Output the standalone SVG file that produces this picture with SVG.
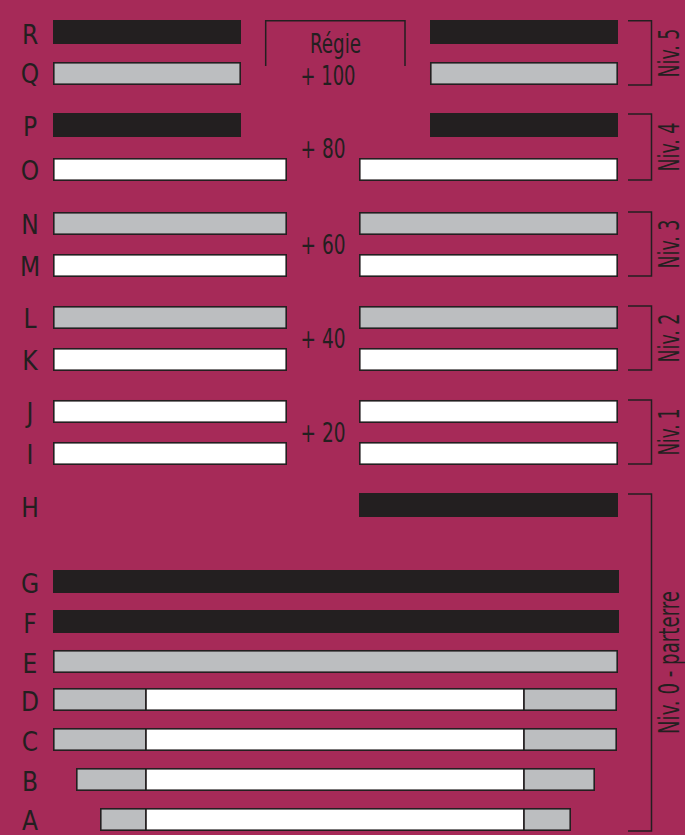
<svg xmlns="http://www.w3.org/2000/svg" width="685" height="835" viewBox="0 0 685 835">
<style>
text{font-family:"Liberation Sans Narrow","DejaVu Sans Condensed","Liberation Sans",sans-serif;fill:#231f20}
.lbl{font-size:26px;text-anchor:middle}
.num{font-size:26px}
.niv{font-size:28px;text-anchor:middle}
.blk{fill:#231f20}
.gry{fill:#bcbec0;stroke:#231f20;stroke-width:1.6}
.wht{fill:#ffffff;stroke:#231f20;stroke-width:1.6}
.br{fill:none;stroke:#231f20;stroke-width:1.5}
</style>
<rect x="0" y="0" width="685" height="835" fill="#a62a58"/>

<g id="regie">
<path class="br" d="M265.7,66 V20.7 H405 V66"/>
<text class="num" x="310" y="53" textLength="51" lengthAdjust="spacingAndGlyphs">Régie</text>
</g>

<g id="row-R"><text class="lbl" x="30" y="44">R</text>
<rect class="blk" x="53" y="20" width="188" height="24"/><rect class="blk" x="430" y="20" width="188" height="24"/></g>
<g id="row-Q"><text class="lbl" x="30" y="83">Q</text>
<rect class="gry" x="53.8" y="62.8" width="186.4" height="21.4"/><rect class="gry" x="430.8" y="62.8" width="186.4" height="21.4"/></g>
<g id="alt-100"><text class="num" x="300.5" y="85" textLength="55" lengthAdjust="spacingAndGlyphs">+ 100</text></g>

<g id="row-P"><text class="lbl" x="30" y="136">P</text>
<rect class="blk" x="53" y="113" width="188" height="24"/><rect class="blk" x="430" y="113" width="188" height="24"/></g>
<g id="alt-80"><text class="num" x="300.5" y="158" textLength="45" lengthAdjust="spacingAndGlyphs">+ 80</text></g>
<g id="row-O"><text class="lbl" x="30" y="180">O</text>
<rect class="wht" x="53.8" y="158.8" width="232.4" height="21.4"/><rect class="wht" x="359.8" y="158.8" width="257.4" height="21.4"/></g>

<g id="row-N"><text class="lbl" x="30" y="234">N</text>
<rect class="gry" x="53.8" y="212.8" width="232.4" height="21.4"/><rect class="gry" x="359.8" y="212.8" width="257.4" height="21.4"/></g>
<g id="alt-60"><text class="num" x="300.5" y="254" textLength="45" lengthAdjust="spacingAndGlyphs">+ 60</text></g>
<g id="row-M"><text class="lbl" x="30" y="276">M</text>
<rect class="wht" x="53.8" y="254.8" width="232.4" height="21.4"/><rect class="wht" x="359.8" y="254.8" width="257.4" height="21.4"/></g>

<g id="row-L"><text class="lbl" x="30" y="328">L</text>
<rect class="gry" x="53.8" y="306.8" width="232.4" height="21.4"/><rect class="gry" x="359.8" y="306.8" width="257.4" height="21.4"/></g>
<g id="alt-40"><text class="num" x="300.5" y="348" textLength="45" lengthAdjust="spacingAndGlyphs">+ 40</text></g>
<g id="row-K"><text class="lbl" x="30" y="370">K</text>
<rect class="wht" x="53.8" y="348.8" width="232.4" height="21.4"/><rect class="wht" x="359.8" y="348.8" width="257.4" height="21.4"/></g>

<g id="row-J"><text class="lbl" x="30" y="422">J</text>
<rect class="wht" x="53.8" y="400.8" width="232.4" height="21.4"/><rect class="wht" x="359.8" y="400.8" width="257.4" height="21.4"/></g>
<g id="alt-20"><text class="num" x="300.5" y="442" textLength="45" lengthAdjust="spacingAndGlyphs">+ 20</text></g>
<g id="row-I"><text class="lbl" x="30" y="464">I</text>
<rect class="wht" x="53.8" y="442.8" width="232.4" height="21.4"/><rect class="wht" x="359.8" y="442.8" width="257.4" height="21.4"/></g>

<g id="row-H"><text class="lbl" x="30" y="517">H</text>
<rect class="blk" x="359" y="493" width="259" height="24"/></g>
<g id="row-G"><text class="lbl" x="30" y="593">G</text>
<rect class="blk" x="53" y="570" width="566" height="23"/></g>
<g id="row-F"><text class="lbl" x="30" y="633">F</text>
<rect class="blk" x="53" y="610" width="566" height="23"/></g>
<g id="row-E"><text class="lbl" x="30" y="673">E</text>
<rect class="gry" x="53.8" y="650.8" width="563.4" height="21.4"/></g>
<g id="row-D"><text class="lbl" x="30" y="711">D</text>
<rect class="gry" x="53.8" y="688.8" width="92.2" height="21.4"/><rect class="wht" x="146" y="688.8" width="378" height="21.4"/><rect class="gry" x="524" y="688.8" width="92.2" height="21.4"/></g>
<g id="row-C"><text class="lbl" x="30" y="751">C</text>
<rect class="gry" x="53.8" y="728.8" width="92.2" height="21.4"/><rect class="wht" x="146" y="728.8" width="378" height="21.4"/><rect class="gry" x="524" y="728.8" width="92.2" height="21.4"/></g>
<g id="row-B"><text class="lbl" x="30" y="791">B</text>
<rect class="gry" x="76.8" y="768.8" width="69.2" height="21.4"/><rect class="wht" x="146" y="768.8" width="378" height="21.4"/><rect class="gry" x="524" y="768.8" width="70.2" height="21.4"/></g>
<g id="row-A"><text class="lbl" x="30" y="829.5">A</text>
<rect class="gry" x="100.8" y="808.8" width="45.2" height="21.4"/><rect class="wht" x="146" y="808.8" width="378" height="21.4"/><rect class="gry" x="524" y="808.8" width="46.2" height="21.4"/></g>

<g id="connectors">
<path class="br" d="M628,20.7 H651.5 V85 H628"/>
<path class="br" d="M628,114 H651.5 V180 H628"/>
<path class="br" d="M628,212 H651.5 V276 H628"/>
<path class="br" d="M628,306 H651.5 V370 H628"/>
<path class="br" d="M628,400 H651.5 V464 H628"/>
<path class="br" d="M628,494 H651.5 V831 H628"/>
</g>

<g id="levels">
<text class="niv" transform="translate(678.5,53) rotate(-90)" x="0" y="0" textLength="49" lengthAdjust="spacingAndGlyphs">Niv. 5</text>
<text class="niv" transform="translate(678.5,147) rotate(-90)" x="0" y="0" textLength="49" lengthAdjust="spacingAndGlyphs">Niv. 4</text>
<text class="niv" transform="translate(678.5,244) rotate(-90)" x="0" y="0" textLength="49" lengthAdjust="spacingAndGlyphs">Niv. 3</text>
<text class="niv" transform="translate(678.5,338) rotate(-90)" x="0" y="0" textLength="49" lengthAdjust="spacingAndGlyphs">Niv. 2</text>
<text class="niv" transform="translate(678.5,432) rotate(-90)" x="0" y="0" textLength="47" lengthAdjust="spacingAndGlyphs">Niv. 1</text>
<text class="niv" transform="translate(678.5,662.5) rotate(-90)" x="0" y="0" textLength="143" lengthAdjust="spacingAndGlyphs">Niv. 0 - parterre</text>
</g>
</svg>
